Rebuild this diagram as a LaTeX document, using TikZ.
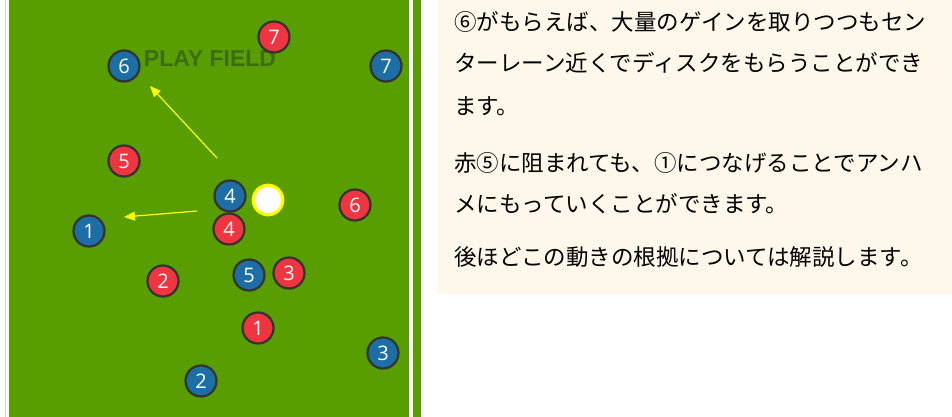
\documentclass[tikz,border=0pt]{standalone}
\usepackage{fontspec}
\setmainfont{Open Sans}
\newfontfamily\jpfont{Noto Sans CJK JP}
\newfontfamily\labfont{Liberation Sans}
\usetikzlibrary{arrows.meta}
\definecolor{fieldgreen}{HTML}{589E00}
\definecolor{fieldtext}{HTML}{3E6C12}
\definecolor{edgeline}{HTML}{C9DCC0}
\definecolor{teamblue}{HTML}{1C6EA4}
\definecolor{teamred}{HTML}{EF3640}
\definecolor{rim}{HTML}{333333}
\definecolor{beige}{HTML}{FEF8EA}
\definecolor{arrowyellow}{HTML}{FFFF00}
\tikzset{
  player/.style={circle, minimum size=31pt, inner sep=0pt, draw=rim, line width=2.2pt,
    text=white, font=\fontsize{20}{20}\selectfont},
  bluep/.style={player, fill=teamblue},
  redp/.style={player, fill=teamred},
  disc/.style={circle, minimum size=29.5pt, inner sep=0pt, fill=white, draw=arrowyellow, line width=3.2pt},
  passarrow/.style={draw=arrowyellow, line width=1.2pt, -{Triangle[length=11pt,width=9pt]}},
  jpline/.style={anchor=base west, inner sep=0pt, font=\jpfont\fontsize{22.5}{22.5}\selectfont, text=black}
}
\begin{document}
\begin{tikzpicture}[x=1pt,y=-1pt]
\useasboundingbox (0,0) rectangle (952,417);
\fill[white] (0,0) rectangle (952,417);
% field
\fill[fieldgreen] (9,0) rectangle (421,417);
\fill[white] (409,0) rectangle (413,417);
\draw[edgeline, line width=1pt] (5.5,0) -- (5.5,417);
\node[font=\labfont\bfseries\fontsize{23}{23}\selectfont, text=fieldtext, inner sep=0pt] (title) at (210,59) {PLAY FIELD};
% arrows
\coordinate (a1s) at (217,158);
\coordinate (a1e) at (150,86);
\coordinate (a2s) at (197,211);
\coordinate (a2e) at (124,217);
\draw[passarrow] (a1s) -- (a1e);
\draw[passarrow] (a2s) -- (a2e);
% players
\node[redp] (r7) at (274,37) {7};
\node[bluep] (b6) at (124,66) {6};
\node[bluep] (b7) at (386,66) {7};
\node[redp] (r5) at (124,161) {5};
\node[bluep] (b4) at (230,196) {4};
\node[disc] (d) at (268,200) {};
\node[redp] (r6) at (355,205) {6};
\node[bluep] (b1) at (89,231) {1};
\node[redp] (r4) at (229,229) {4};
\node[redp] (r2) at (163,281) {2};
\node[bluep] (b5) at (249,275) {5};
\node[redp] (r3) at (289,273) {3};
\node[redp] (r1) at (258,328) {1};
\node[bluep] (b3) at (383,353) {3};
\node[bluep] (b2) at (201,381) {2};
% text panel
\fill[beige] (438,0) rectangle (952,294);
\node[jpline] (t1) at (454,30.5) {⑥がもらえば、大量のゲインを取りつつもセン};
\node[jpline] (t2) at (454,71.5) {ターレーン近くでディスクをもらうことができ};
\node[jpline] (t3) at (454,114) {ます。};
\node[jpline] (t4) at (454,171.5) {赤⑤に阻まれても、①につなげることでアンハ};
\node[jpline] (t5) at (454,212.5) {メにもっていくことができます。};
\node[jpline] (t6) at (454,265) {後ほどこの動きの根拠については解説します。};
\end{tikzpicture}
\end{document}
